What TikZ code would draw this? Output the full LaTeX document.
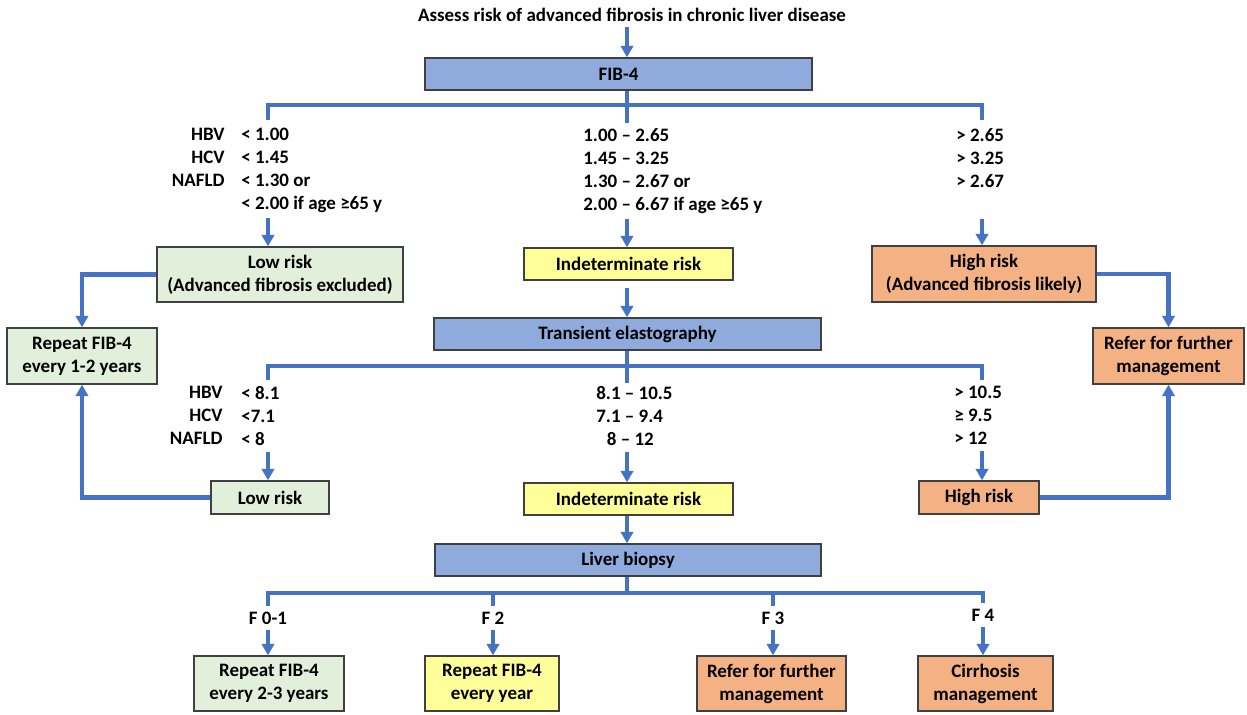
\documentclass[tikz,border=0pt]{standalone}
\usepackage{fontspec}
\setmainfont{Carlito}
\usetikzlibrary{arrows.meta,positioning}

\definecolor{lineblue}{RGB}{68,114,196}
\definecolor{boxblue}{RGB}{143,170,220}
\definecolor{boxgreen}{RGB}{226,239,218}
\definecolor{boxyellow}{RGB}{255,255,153}
\definecolor{boxorange}{RGB}{244,177,131}
\definecolor{boxline}{RGB}{64,64,64}

\begin{document}
\begin{tikzpicture}[x=0.02cm,y=-0.02cm,
  every node/.style={font=\bfseries\fontsize{10.8}{13.1}\selectfont,inner sep=0pt},
  Boxnode/.style={draw=boxline,line width=0.8pt,align=center},
  Stepnode/.style={Boxnode,fill=boxblue,minimum width=7.74cm,minimum height=0.64cm},
  Greennode/.style={Boxnode,fill=boxgreen},
  Yellownode/.style={Boxnode,fill=boxyellow},
  Orangenode/.style={Boxnode,fill=boxorange},
  Condnode/.style={align=left,anchor=north west},
  link/.style={draw=lineblue,line width=2.3pt},
  arr/.style={link,-{Triangle[length=6.5pt,width=7pt]}}
]
\useasboundingbox (0,0) rectangle (1247,715);

% the title and FIB-4
\node (title) at (632,15) {Assess risk of advanced fibrosis in chronic liver disease};
\node[Stepnode] (fib) at (618.5,74) {FIB-4};

% the FIB-4 cut-offs
\node[align=right,anchor=north east] (n1) at (225,128) {HBV\\HCV\\NAFLD};
\node[Condnode] (c1l) at (241,128) {< 1.00\\< 1.45\\< 1.30 or\\< 2.00 if age ≥65 y};
\node[Condnode] (c1m) at (583,128) {1.00 – 2.65\\1.45 – 3.25\\1.30 – 2.67 or\\2.00 – 6.67 if age ≥65 y};
\node[Condnode] (c1h) at (956,128) {> 2.65\\> 3.25\\> 2.67};

% the FIB-4 results
\node[Greennode,minimum width=4.92cm,minimum height=1.1cm] (low1) at (280,274.5) {Low risk\\(Advanced fibrosis excluded)};
\node[Yellownode,minimum width=4.18cm,minimum height=0.64cm] (ind1) at (628.5,264) {Indeterminate risk};
\node[Orangenode,minimum width=4.48cm,minimum height=1.12cm] (high1) at (984,274) {High risk\\(Advanced fibrosis likely)};
\node[Greennode,minimum width=3cm,minimum height=1.12cm] (rep1) at (82,356) {Repeat FIB-4\\every 1-2 years};
\node[Orangenode,minimum width=3.02cm,minimum height=1.12cm] (ref1) at (1168.5,356) {Refer for further\\management};

% transient elastography
\node[Stepnode] (te) at (627.5,334) {Transient elastography};
\node[align=right,anchor=north east] (n2) at (223,386) {HBV\\HCV\\NAFLD};
\node[Condnode] (c2l) at (241,386) {< 8.1\\<7.1\\< 8};
\node[Condnode] (c2m) at (596,386) {8.1 – 10.5\\7.1 – 9.4\\\hspace*{6pt}8 – 12};
\node[Condnode] (c2h) at (954,386) {> 10.5\\≥ 9.5\\> 12};
\node[Greennode,minimum width=2.36cm,minimum height=0.66cm] (low2) at (270,497.5) {Low risk};
\node[Yellownode,minimum width=4.18cm,minimum height=0.64cm] (ind2) at (628.5,499) {Indeterminate risk};
\node[Orangenode,minimum width=2.4cm,minimum height=0.66cm] (high2) at (979,497.5) {High risk};

% liver biopsy
\node[Stepnode,minimum width=7.72cm] (lb) at (628,560) {Liver biopsy};
\node (f1) at (268,618) {F 0-1};
\node (f2) at (493,618) {F 2};
\node (f3) at (773,618) {F 3};
\node (f4) at (983,615) {F 4};
\node[Greennode,minimum width=3cm,minimum height=1.1cm] (rep2) at (269,683.5) {Repeat FIB-4\\every 2-3 years};
\node[Yellownode,minimum width=2.68cm,minimum height=1.1cm] (rep3) at (492,683.5) {Repeat FIB-4\\every year};
\node[Orangenode,minimum width=2.98cm,minimum height=1.1cm] (ref2) at (771.5,683.5) {Refer for further\\management};
\node[Orangenode,minimum width=2.7cm,minimum height=1.1cm] (cirr) at (985.5,683.5) {Cirrhosis\\management};

% the branch points
\coordinate (xm) at (627,0);
\coordinate (b1l) at (268,120);
\coordinate (b1r) at (982,120);
\coordinate (b2l) at (268,380);
\coordinate (b2r) at (982,380);
\coordinate (b3l) at (268,606);
\coordinate (b3r) at (983,603);

% the edges of FIB-4
\draw[arr] (title.south -| xm) ++(0,5) -- (fib.north -| xm);
\draw[link] (fib.south -| xm) -- ++(0,32);
\draw[link] (b1l) -- ++(0,-15) -| (b1r);
\draw[arr] (c1l.south -| b1l) ++(0,5) -- (low1.north -| b1l);
\draw[arr] (c1m.south -| xm) ++(0,5) -- (ind1.north -| xm);
\draw[arr] (c1m.south -| b1r) ++(0,5) -- (high1.north -| b1r);
\draw[arr] (low1.west) -| (rep1.north);
\draw[arr] (high1.east) -| (ref1.north);
\draw[arr] (ind1.south -| xm) ++(0,7) -- (te.north -| xm);

% the edges of transient elastography
\draw[link] (te.south -| xm) -- ++(0,32);
\draw[link] (b2l) -- ++(0,-14) -| (b2r);
\draw[arr] (c2l.south -| b2l) ++(0,6) -- (low2.north -| b2l);
\draw[arr] (c2m.south -| xm) ++(0,6) -- (ind2.north -| xm);
\draw[arr] (c2h.south -| b2r) ++(0,6) -- (high2.north -| b2r);
\draw[arr] (low2.west) -| (rep1.south);
\draw[arr] (high2.east) -| (ref1.south);
\draw[arr] (ind2.south -| xm) -- (lb.north -| xm);

% the edges of liver biopsy
\draw[link] (lb.south -| xm) -- ++(0,17);
\draw[link] (b3l) -- ++(0,-13) -| (b3r);
\foreach \f in {f2,f3}
  \draw[link] (\f.north) ++(0,-6) -- (\f.north |- b3l) -- ++(0,-13);
\foreach \f/\b in {f1/rep2,f2/rep3,f3/ref2,f4/cirr}
  \draw[arr] (\f.south) ++(0,5) -- (\f.south |- \b.north);

\end{tikzpicture}
\end{document}
